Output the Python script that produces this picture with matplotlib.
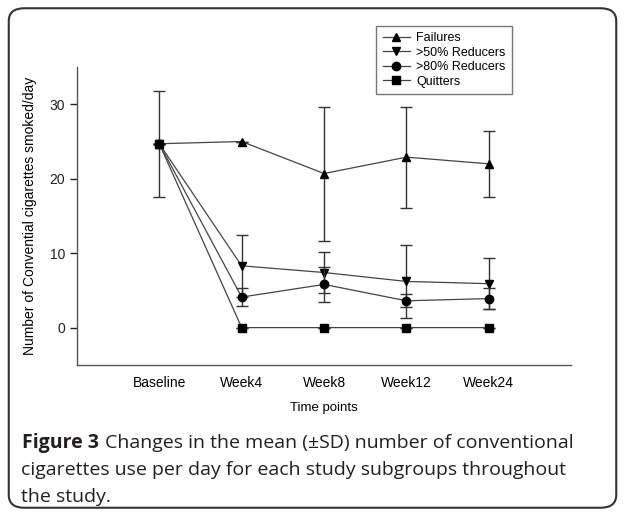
import matplotlib.pyplot as plt
from matplotlib.patches import FancyBboxPatch

time_points = ['Baseline', 'Week4', 'Week8', 'Week12', 'Week24']

failures = [24.7, 25.0, 20.7, 22.9, 22.0]
failures_sd = [7.1, 0.0, 9.0, 6.8, 4.4]

reducers50 = [24.7, 8.3, 7.4, 6.2, 5.9]
reducers50_sd = [7.1, 4.2, 2.8, 4.9, 3.4]

reducers80 = [24.7, 4.1, 5.8, 3.6, 3.9]
reducers80_sd = [7.1, 1.2, 2.3, 0.9, 1.4]

quitters = [24.7, 0.0, 0.0, 0.0, 0.0]
quitters_sd = [7.1, 0.0, 0.0, 0.0, 0.0]

series = [
    ('Failures', failures, failures_sd, '^'),
    ('>50% Reducers', reducers50, reducers50_sd, 'v'),
    ('>80% Reducers', reducers80, reducers80_sd, 'o'),
    ('Quitters', quitters, quitters_sd, 's'),
]

plt.rcParams['font.family'] = ['Liberation Sans', 'DejaVu Sans']

fig = plt.figure(figsize=(6.25, 5.16), dpi=100)
ax = fig.add_axes([0.123, 0.293, 0.791, 0.577])

x = list(range(len(time_points)))
handles = []
for i, (name, vals, sd, mk) in enumerate(series):
    # baseline is shared by every group, so its error bar is drawn only once
    err = list(sd)
    if i > 0:
        err[0] = 0.0
    ax.errorbar(x, vals, yerr=err, fmt='none', ecolor='#333333', elinewidth=1.0,
                capsize=4, capthick=1.0)
    h, = ax.plot(x, vals, color='#444444', lw=0.9, marker=mk, markersize=6,
                 markerfacecolor='black', markeredgecolor='black', label=name)
    handles.append(h)

ax.set_xlim(-1, 5)
ax.set_ylim(-5, 35)
ax.set_yticks([0, 10, 20, 30])
ax.set_xticks(x)
ax.set_xticklabels(time_points, fontsize=10)
ax.tick_params(axis='x', length=0, pad=8)
ax.tick_params(axis='y', length=5, width=1, labelsize=10, colors='#222222')
for s in ['top', 'right']:
    ax.spines[s].set_visible(False)
for s in ['left', 'bottom']:
    ax.spines[s].set_color('#555555')
    ax.spines[s].set_linewidth(1.0)

ax.set_xlabel('Time points', fontsize=9.5, labelpad=9)
ax.set_ylabel('Number of Convential cigarettes smoked/day', fontsize=10,
              labelpad=9)

fig.legend(handles=handles, loc='upper left', bbox_to_anchor=(0.592, 0.962),
           fontsize=9, frameon=True, fancybox=False, edgecolor='#555555',
           handlelength=2.2, handletextpad=0.5, labelspacing=0.2,
           borderpad=0.5)

border = FancyBboxPatch((0.014, 0.016), 0.972, 0.968,
                        boxstyle='round,pad=0,rounding_size=0.025',
                        transform=fig.transFigure, fill=False,
                        edgecolor='#333333', lw=1.5)
fig.patches.append(border)

cap_size = 14
t = fig.text(0.036, 0.132, 'Figure 3', fontsize=cap_size, fontweight='bold',
             family='Open Sans', color='#231f20')
fig.canvas.draw()
bb = t.get_window_extent().transformed(fig.transFigure.inverted())
fig.text(bb.x1 + 0.009, 0.132,
         'Changes in the mean (\u00b1SD) number of conventional',
         fontsize=cap_size, family='Open Sans', color='#231f20')
fig.text(0.034, 0.079,
         'cigarettes use per day for each study subgroups throughout',
         fontsize=cap_size, family='Open Sans', color='#231f20')
fig.text(0.034, 0.028, 'the study.', fontsize=cap_size, family='Open Sans',
         color='#231f20')

fig.savefig('out.png', dpi=100)
